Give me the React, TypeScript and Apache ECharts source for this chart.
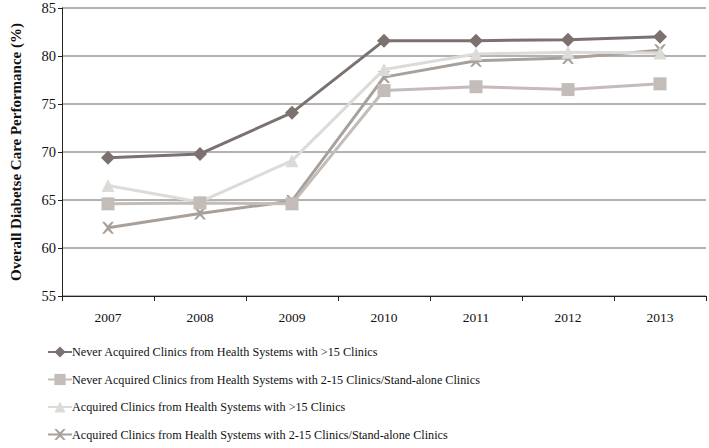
import React, { useEffect, useRef } from "react";
import * as echarts from "echarts";

const years = ["2007", "2008", "2009", "2010", "2011", "2012", "2013"];
const seriesNames = [
  "Never Acquired Clinics from Health Systems with >15 Clinics",
  "Never Acquired Clinics from Health Systems with 2-15 Clinics/Stand-alone Clinics",
  "Acquired Clinics from Health Systems with >15 Clinics",
  "Acquired Clinics from Health Systems with 2-15 Clinics/Stand-alone Clinics",
];
const neverLarge = [69.4, 69.8, 74.1, 81.6, 81.6, 81.7, 82.0];
const neverSmall = [64.6, 64.7, 64.6, 76.4, 76.8, 76.5, 77.1];
const acqLarge = [66.5, 64.8, 69.1, 78.6, 80.2, 80.4, 80.3];
const acqSmall = [62.1, 63.6, 64.9, 77.8, 79.5, 79.8, 80.6];

const colors = ["#7b7270", "#c3bcb8", "#dddbd7", "#a8a09b"];
const symbols = ["diamond", "rect", "triangle", "x"];

const FONT = "'Liberation Serif', 'Times New Roman', serif";

export default function App() {
  const ref = useRef<HTMLDivElement>(null);
  useEffect(() => {
    if (!ref.current) return;
    const chart = echarts.init(ref.current, undefined, { renderer: "svg" });
    const datas = [neverLarge, neverSmall, acqLarge, acqSmall];
    const xPath = "path://M0,0 L2,0 L5,3 L8,0 L10,0 L6,5 L10,10 L8,10 L5,7 L2,10 L0,10 L4,5 Z";
    chart.setOption({
      animation: false,
      textStyle: { fontFamily: FONT },
      grid: { left: 53, right: 3, top: 8, bottom: 152 },
      xAxis: {
        type: "category",
        data: years,
        boundaryGap: true,
        axisLine: { lineStyle: { color: "#222", width: 1 } },
        axisTick: { show: true, alignWithLabel: false, length: 5, lineStyle: { color: "#222" } },
        axisLabel: { color: "#111", fontSize: 13.5, fontFamily: FONT, margin: 14 },
      },
      yAxis: {
        type: "value",
        min: 55,
        max: 85,
        interval: 5,
        name: "Overall Diabetse Care Performance (%)",
        nameLocation: "middle",
        nameGap: 39,
        nameTextStyle: { color: "#111", fontSize: 15, fontWeight: "bold", fontFamily: FONT },
        axisLine: { show: true, lineStyle: { color: "#222", width: 1 } },
        axisTick: { show: true, length: 4, lineStyle: { color: "#222" } },
        axisLabel: { color: "#111", fontSize: 14.5, fontFamily: FONT, margin: 6 },
        splitLine: { show: true, lineStyle: { color: "#999", width: 1.5 } },
      },
      legend: {
        orient: "vertical",
        left: 42,
        top: 341,
        height: 110,
        itemGap: 15.5,
        itemWidth: 24,
        itemHeight: 14,
        textStyle: { color: "#111", fontSize: 12.2, fontFamily: FONT, padding: [0, 0, 0, -5] },
        data: seriesNames,
      },
      series: seriesNames.map((name, i) => ({
        name,
        type: "line",
        data: datas[i],
        symbol: i === 3 ? xPath : symbols[i],
        symbolSize: i === 0 ? 14 : i === 3 ? 12 : 13,
        showSymbol: true,
        itemStyle: { color: colors[i] },
        lineStyle: { color: colors[i], width: 3 },
        z: 10 - i,
      })),
    });
    return () => chart.dispose();
  }, []);
  return <div ref={ref} style={{ width: 709, height: 448, position: "absolute", left: 0, top: 0 }} />;
}
